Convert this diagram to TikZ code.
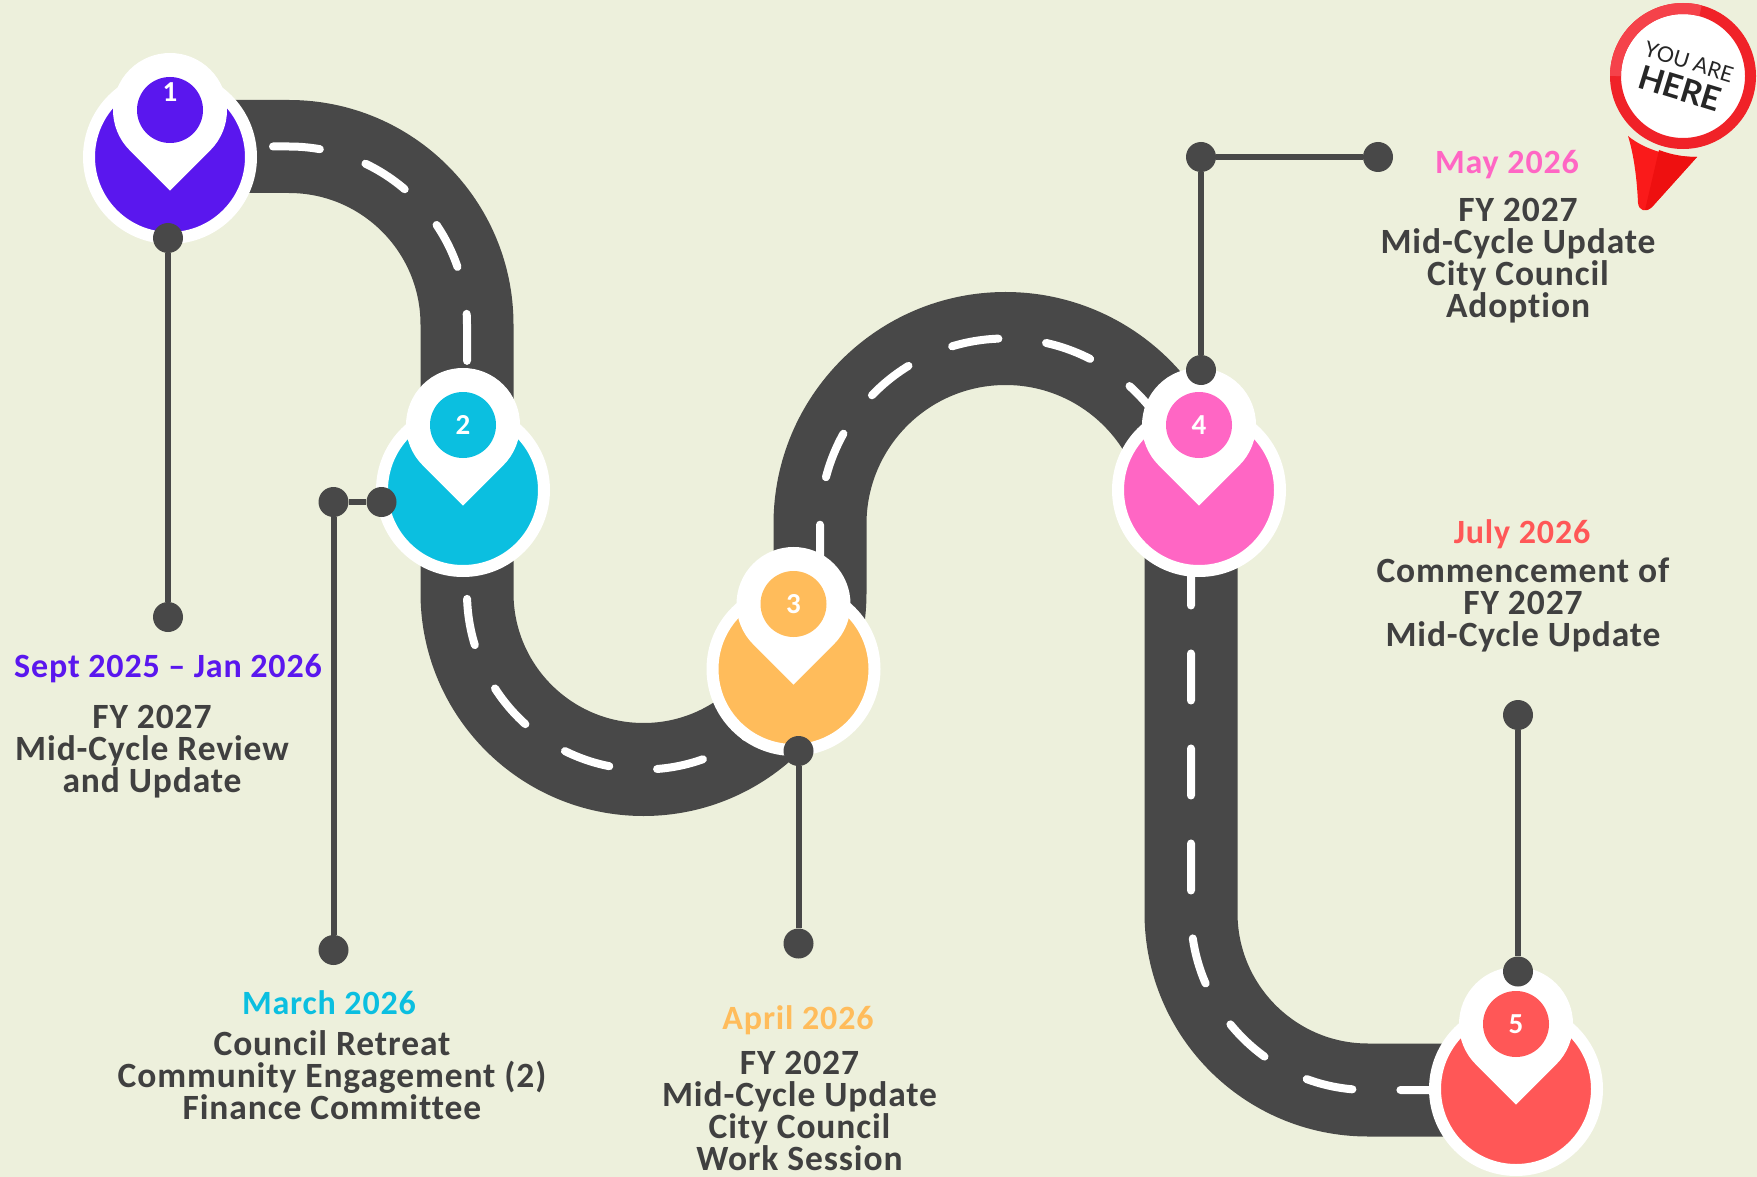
\documentclass[tikz,border=0pt]{standalone}
\usepackage{fontspec}
\setmainfont{Carlito}[LetterSpace=2.5,Ligatures=CommonOff]
\newfontfamily\badgefont{Lato}
\usepackage{xcolor}
\usetikzlibrary{positioning,shapes}

\definecolor{bgcol}{HTML}{EDF0DC}
\definecolor{roadcol}{HTML}{484848}
\definecolor{textcol}{HTML}{404040}
\definecolor{purplecol}{HTML}{5A17EE}
\definecolor{cyancol}{HTML}{0BBFE0}
\definecolor{orangecol}{HTML}{FFBC5B}
\definecolor{pinkcol}{HTML}{FF66C4}
\definecolor{redcol}{HTML}{FF5757}
\definecolor{badgecol}{HTML}{F02228}
\definecolor{badgelite}{HTML}{F5424A}
\definecolor{tipcol}{HTML}{FA1A1A}
\definecolor{tipdark}{HTML}{EE1010}

\newcommand{\roadpath}{(170,146.5) -- (289,146.5) arc (270:360:178) -- (467,593) arc (180:0:176.5)
  -- (820,524) arc (180:360:185.5) -- (1191,913) arc (180:90:177) -- (1516,1090)}

\tikzset{
  road/.style={draw=roadcol, line width=93pt},
  roaddash/.style={draw=white, line width=8pt, line cap=round, dash pattern=on 47pt off 48pt, dash phase=87pt},
  bigpin/.style={circle, draw=white, fill=#1, line width=12pt, outer sep=0pt, inner sep=0pt, minimum size=162pt},
  pindot/.style={circle, fill=#1, inner sep=0pt, minimum size=66pt},
  pinnum/.style={text=white, inner sep=0pt, font=\fontsize{29}{29}\selectfont\bfseries},
  enddot/.style={circle, fill=roadcol, inner sep=0pt, minimum size=30pt},
  leader/.style={draw=roadcol, line width=6pt},
  datelbl/.style={inner sep=0pt, font=\fontsize{34}{34}\selectfont\bfseries},
  bodylbl/.style={inner sep=0pt, align=center, text=textcol, font=\fontsize{35.5}{32}\selectfont\bfseries},
  badgelbl/.style={rotate=-17, inner sep=0pt, text=black!85},
}

\begin{document}
\begin{tikzpicture}[x=1pt,y=-1pt]
  \useasboundingbox[fill=bgcol] (0,0) rectangle (1757,1177);

  \draw[road] \roadpath;
  \draw[roaddash] \roadpath;

  % pins
  \foreach \x/\y/\pincol/\n/\dy in {170/157/purplecol/1/-47, 463/490/cyancol/2/-65, 793.5/669/orangecol/3/-65, 1199/490/pinkcol/4/-65, 1516/1089/redcol/5/-65}
  {
    \node[bigpin=\pincol] (p\n) at (\x,\y) {};
    \fill[white] (\x,\y+\dy+80.6) -- ++(-40.3,-40.3) arc (135:405:57) -- cycle;
    \node[pindot=\pincol] (d\n) at (\x,\y+\dy) {};
    \node[pinnum] (num\n) at (\x,\y-65) {\n};
  }

  % leader lines
  \node[enddot] (a1) at (168,238) {};
  \node[enddot] (b1) at (168,617) {};
  \node[enddot] (a2) at (381.5,502) {};
  \node[enddot] (b2) at (333.5,502) {};
  \node[enddot] (c2) at (333.5,950) {};
  \node[enddot] (a3) at (798.5,751) {};
  \node[enddot] (b3) at (798.5,943.5) {};
  \node[enddot] (a4) at (1201,370) {};
  \node[enddot] (b4) at (1201,157) {};
  \node[enddot] (c4) at (1378,157) {};
  \node[enddot] (a5) at (1518,971.5) {};
  \node[enddot] (b5) at (1518,715) {};

  \foreach \from/\to in {a1/b1, a2/b2, b2/c2, a3/b3, a4/b4, b4/c4, a5/b5}
    \draw[leader] (\from) -- (\to);

  % labels
  \node[datelbl,text=purplecol] (date1) at (168,669) {Sept 2025 – Jan 2026};
  \node[bodylbl] (body1) at (152,751.5) {FY 2027\\Mid-Cycle Review\\and Update};
  \node[datelbl,text=cyancol] (date2) at (329,1003) {March 2026};
  \node[bodylbl] (body2) at (332,1075) {Council Retreat\\Community Engagement (2)\\Finance Committee};
  \node[datelbl,text=orangecol] (date3) at (798,1020.5) {April 2026};
  \node[bodylbl] (body3) at (799.5,1111) {FY 2027\\Mid-Cycle Update\\City Council\\Work Session};
  \node[datelbl,text=pinkcol] (date4) at (1507,164.5) {May 2026};
  \node[bodylbl] (body4) at (1518,261) {FY 2027\\Mid-Cycle Update\\City Council\\Adoption};
  \node[datelbl,text=redcol] (date5) at (1522,534.5) {July 2026};
  \node[bodylbl] (body5) at (1523,605) {Commencement of\\FY 2027\\Mid-Cycle Update};

  % you are here badge
  \fill[tipcol] (1628,136) .. controls (1645,150) and (1670,157) .. (1697,157)
    -- (1652,207) .. controls (1646,213) and (1639,211) .. (1638,203) .. controls (1637,180) and (1634,155) .. (1628,136) -- cycle;
  \fill[tipdark] (1659,150) .. controls (1672,155) and (1685,157) .. (1697,157)
    -- (1652,207) .. controls (1650,209) and (1648,210) .. (1645,210) -- cycle;
  \node[circle, draw=badgecol, fill=white, line width=11pt, outer sep=0pt, inner sep=0pt, minimum size=135pt] (badge) at (1683,76) {};
  \draw[badgelite, line width=11pt] (1615.5,76) arc (180:285:67.5);
  \node[badgelbl, font=\fontsize{21.5}{21.5}\selectfont\badgefont] (you) at (1689,62) {YOU ARE};
  \node[badgelbl, font=\fontsize{33}{33}\selectfont\badgefont\bfseries] (here) at (1680,88) {HERE};
\end{tikzpicture}
\end{document}
